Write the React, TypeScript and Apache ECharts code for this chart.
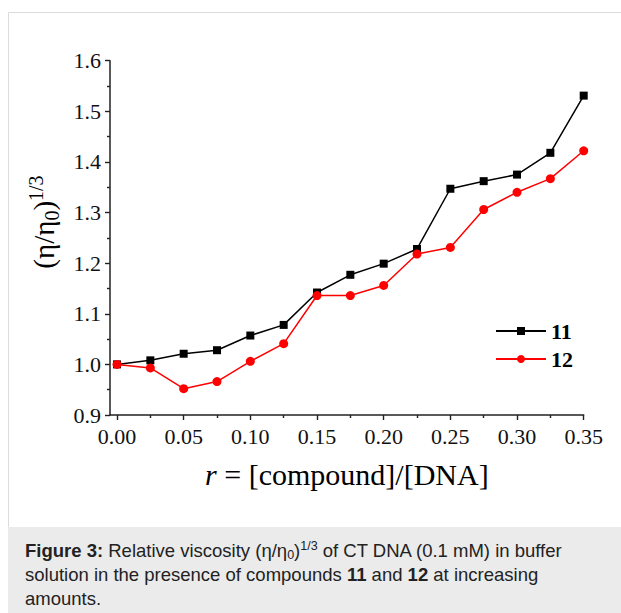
import React, { useEffect, useRef } from "react";
import * as echarts from "echarts";

// ---- data ----
const xValues = [0, 0.025, 0.05, 0.075, 0.1, 0.125, 0.15, 0.175, 0.2, 0.225, 0.25, 0.275, 0.3, 0.325, 0.35];
const values11 = [1.0, 1.008, 1.021, 1.028, 1.057, 1.078, 1.142, 1.177, 1.199, 1.228, 1.347, 1.362, 1.375, 1.418, 1.531];
const values12 = [1.0, 0.993, 0.952, 0.966, 1.006, 1.041, 1.136, 1.136, 1.156, 1.218, 1.231, 1.306, 1.34, 1.367, 1.422];
const seriesNames = ["11", "12"];
const xMajorTicks = [0, 0.05, 0.1, 0.15, 0.2, 0.25, 0.3, 0.35];
const xMinorTicks = [0.025, 0.075, 0.125, 0.175, 0.225, 0.275, 0.325];
const captionLines = [
  "{b|Figure 3:} Relative viscosity (η/η{sub|0}){sup|1/3} of CT DNA (0.1 mM) in buffer",
  "solution in the presence of compounds {b|11} and {b|12} at increasing",
  "amounts.",
];

const SERIF = "'Liberation Serif', 'Times New Roman', serif";
const SANS = "'Liberation Sans', Arial, Helvetica, sans-serif";

export default function App() {
  const ref = useRef<HTMLDivElement>(null);

  useEffect(() => {
    if (!ref.current) return;
    const chart = echarts.init(ref.current, undefined, { renderer: "svg" });

    const captionRich = {
      b: { fontFamily: SANS, fontSize: 18.5, fontWeight: "bold", color: "#222", lineHeight: 22 },
      sub: { fontFamily: SANS, fontSize: 12.5, color: "#222", lineHeight: 12, verticalAlign: "bottom" },
      sup: { fontFamily: SANS, fontSize: 12.5, color: "#222", lineHeight: 12, verticalAlign: "top" },
    };

    const tickStyle = { color: "#222", width: 1.4 };

    const option: any = {
      animation: false,
      backgroundColor: "transparent",
      grid: { left: 110, right: 37.3, top: 60.7, bottom: 198, containLabel: false },
      legend: {
        data: seriesNames,
        orient: "vertical",
        left: 490,
        top: 315,
        itemWidth: 50,
        itemHeight: 10,
        itemGap: 6,
        textStyle: { fontFamily: SERIF, fontSize: 22, fontWeight: "bold", color: "#000", padding: [0, 0, 0, 0] },
      },
      xAxis: [
        {
          type: "value",
          min: -0.00525,
          max: 0.35,
          position: "bottom",
          axisLine: { show: true, onZero: false, lineStyle: { color: "#222", width: 1.5 } },
          axisTick: { show: true, customValues: xMajorTicks, length: 5, lineStyle: tickStyle },
          axisLabel: {
            show: true,
            customValues: xMajorTicks,
            formatter: (v: number) => v.toFixed(2),
            margin: 10,
            fontFamily: SERIF,
            fontSize: 22,
            color: "#111",
          },
          splitLine: { show: false },
          name: "{i|r} = [compound]/[DNA]",
          nameLocation: "middle",
          nameGap: 44,
          nameTextStyle: {
            fontFamily: SERIF,
            fontSize: 30,
            color: "#000",
            rich: { i: { fontFamily: SERIF, fontSize: 30, fontStyle: "italic", color: "#000" } },
          },
        },
        {
          type: "value",
          min: -0.00525,
          max: 0.35,
          position: "bottom",
          axisLine: { show: false, onZero: false },
          axisTick: { show: true, customValues: xMinorTicks, length: 3, lineStyle: tickStyle },
          axisLabel: { show: false },
          splitLine: { show: false },
        },
      ],
      yAxis: {
        type: "value",
        min: 0.9,
        max: 1.6,
        interval: 0.1,
        axisLine: { show: true, onZero: false, lineStyle: { color: "#222", width: 1.5 } },
        axisTick: { show: true, length: 5, lineStyle: tickStyle },
        minorTick: { show: true, splitNumber: 2, length: 3, lineStyle: tickStyle },
        axisLabel: {
          formatter: (v: number) => v.toFixed(1),
          margin: 9,
          fontFamily: SERIF,
          fontSize: 22,
          color: "#111",
        },
        splitLine: { show: false },
        minorSplitLine: { show: false },
      },
      series: [
        {
          name: seriesNames[0],
          type: "line",
          xAxisIndex: 0,
          data: xValues.map((x, i) => [x, values11[i]]),
          symbol: "rect",
          symbolSize: 8,
          itemStyle: { color: "#000" },
          lineStyle: { color: "#000", width: 1.5 },
          z: 2,
        },
        {
          name: seriesNames[1],
          type: "line",
          xAxisIndex: 0,
          data: xValues.map((x, i) => [x, values12[i]]),
          symbol: "circle",
          symbolSize: 9,
          itemStyle: { color: "#ff0000" },
          lineStyle: { color: "#ff0000", width: 1.5 },
          z: 3,
        },
      ],
      graphic: [
        {
          type: "rect",
          z: -10,
          silent: true,
          shape: { x: 8.5, y: 12.5, width: 700, height: 700 },
          style: { fill: "#fff", stroke: "#dcdcdc", lineWidth: 1 },
        },
        {
          type: "rect",
          z: -9,
          silent: true,
          shape: { x: 8, y: 527, width: 620, height: 90 },
          style: { fill: "#ebebeb" },
        },
        ...captionLines.map((t, i) => ({
          type: "text",
          z: 5,
          x: 25,
          y: 550 + i * 24,
          style: {
            text: t,
            fontFamily: SANS,
            fontSize: 18.5,
            fill: "#222",
            lineHeight: 22,
            verticalAlign: "middle",
            align: "left",
            rich: captionRich,
          },
        })),
        {
          type: "text",
          z: 5,
          x: 44,
          y: 222,
          rotation: Math.PI / 2,
          style: {
            text: "(η/η{sub|0}){sup|1/3}",
            fontFamily: SERIF,
            fontSize: 29,
            fill: "#000",
            lineHeight: 36,
            align: "center",
            verticalAlign: "middle",
            rich: {
              sub: { fontFamily: SERIF, fontSize: 20, lineHeight: 18, verticalAlign: "bottom", color: "#000" },
              sup: { fontFamily: SERIF, fontSize: 20, lineHeight: 18, verticalAlign: "top", color: "#000" },
            },
          },
        },
      ],
    };

    chart.setOption(option);
    return () => chart.dispose();
  }, []);

  return (
    <div
      ref={ref}
      style={{ position: "absolute", left: 0, top: 0, width: 621, height: 613, background: "#fff" }}
    />
  );
}
